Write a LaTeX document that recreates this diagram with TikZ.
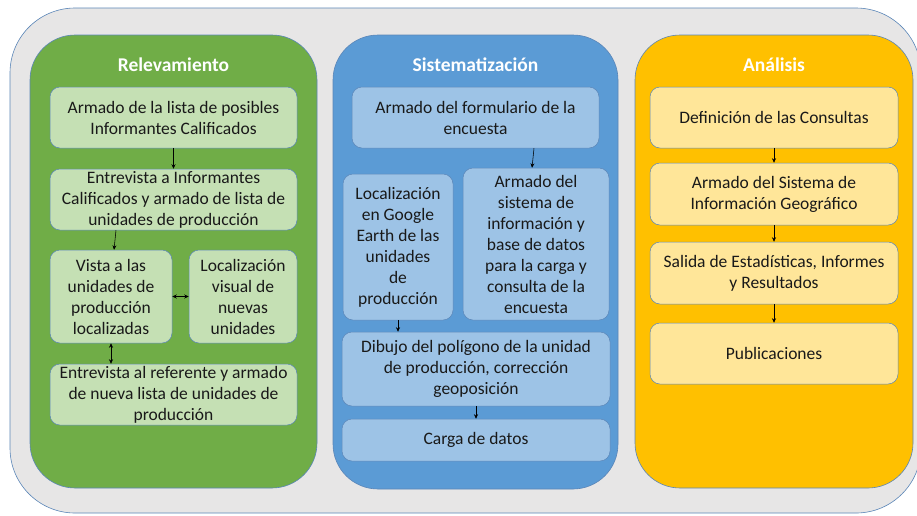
\documentclass[tikz,border=0pt]{standalone}
\usepackage{fontspec}
\setmainfont{Carlito}
\usetikzlibrary{arrows.meta}
\definecolor{outerfill}{HTML}{E7E6E6}
\definecolor{edge}{HTML}{5B86B8}
\definecolor{gpanel}{HTML}{70AD47}
\definecolor{gbox}{HTML}{C5E0B4}
\definecolor{bpanel}{HTML}{5B9BD5}
\definecolor{bbox}{HTML}{9DC3E6}
\definecolor{opanel}{HTML}{FFC000}
\definecolor{obox}{HTML}{FFE699}
\tikzset{
  panel/.style={draw=edge, line width=0.6pt, rounded corners=45pt},
  card/.style={draw=edge, line width=0.5pt, rounded corners=10pt, align=center, inner sep=0pt,
     font=\fontsize{17.5}{21}\selectfont, text=black!90},
  title/.style={text=white, font=\fontsize{19.5}{22}\selectfont\bfseries},
  arr/.style={-{Stealth[length=4.5pt,width=4pt]}, line width=0.55pt, black},
  darr/.style={{Stealth[length=4.5pt,width=4pt]}-{Stealth[length=4.5pt,width=4pt]}, line width=0.55pt, black},
}
\begin{document}
\begin{tikzpicture}[x=1pt,y=-1pt]
\useasboundingbox (0,0) rectangle (917,515);
\fill[white] (0,0) rectangle (917,515);
\begin{scope}
\clip (0,0) rectangle (917,515);
\draw[draw=edge, fill=outerfill, line width=0.6pt, rounded corners=65pt] (10,8) rectangle (921,513);
\end{scope}
% panels
\draw[panel, fill=gpanel] (30,35) rectangle (317,488);
\draw[panel, fill=bpanel] (333,35) rectangle (618,489);
\draw[panel, fill=opanel] (635,35) rectangle (913,488);
\node[title] (tg) at (173.5,65) {Relevamiento};
\node[title] (tb) at (475.5,65) {Sistematización};
\node[title] (to) at (774,65) {Análisis};
% green
\node[card, fill=gbox, minimum width=247pt, minimum height=61pt] (g1) at (173.5,117.5) {Armado de la lista de posibles\\Informantes Calificados};
\node[card, fill=gbox, minimum width=247pt, minimum height=61pt] (g2) at (173.5,199.5) {Entrevista a Informantes\\Calificados y armado de lista de\\unidades de producción};
\node[card, fill=gbox, minimum width=122pt, minimum height=93pt] (g3) at (111,296.5) {Vista a las\\unidades de\\producción\\localizadas};
\node[card, fill=gbox, minimum width=108pt, minimum height=93pt] (g4) at (243,296.5) {Localización\\visual de\\nuevas\\unidades};
\node[card, fill=gbox, minimum width=247pt, minimum height=61pt] (g5) at (173.5,394.5) {Entrevista al referente y armado\\de nueva lista de unidades de\\producción};
% blue
\node[card, fill=bbox, minimum width=247pt, minimum height=61pt] (b1) at (475.5,117.5) {Armado del formulario de la\\encuesta};
\node[card, fill=bbox, minimum width=110pt, minimum height=146pt] (b2) at (398,247) {Localización\\en Google\\Earth de las\\unidades\\de\\producción};
\node[card, fill=bbox, minimum width=146pt, minimum height=152pt] (b3) at (536,244) {Armado del\\sistema de\\información y\\base de datos\\para la carga y\\consulta de la\\encuesta};
\node[card, fill=bbox, minimum width=268pt, minimum height=74pt] (b4) at (476,369) {Dibujo del polígono de la unidad\\de producción, corrección\\geoposición};
\node[card, fill=bbox, minimum width=268pt, minimum height=42pt] (b5) at (476,440) {Carga de datos};
% orange
\node[card, fill=obox, minimum width=248pt, minimum height=61pt] (o1) at (774,117.5) {Definición de las Consultas};
\node[card, fill=obox, minimum width=248pt, minimum height=62pt] (o2) at (774,194) {Armado del Sistema de\\Información Geográfico};
\node[card, fill=obox, minimum width=248pt, minimum height=62pt] (o3) at (774,273) {Salida de Estadísticas, Informes\\y Resultados};
\node[card, fill=obox, minimum width=248pt, minimum height=61pt] (o4) at (774,353.5) {Publicaciones};
% arrows
\draw[arr] (g1.south) -- (g2.north);
\draw[arr] ([xshift=-57.5pt]g2.south) -- ([xshift=3pt]g3.north);
\draw[darr] (g3.east) -- (g4.west);
\draw[darr] (g3.south) -- (g5.north -| g3.south);
\draw[arr] ([xshift=58.5pt]b1.south) -- ([xshift=-4pt]b3.north);
\draw[arr] (b2.south) -- (b4.north -| b2.south);
\draw[arr] (b4.south) -- (b5.north);
\draw[arr] (o1.south) -- (o2.north);
\draw[arr] (o2.south) -- (o3.north);
\draw[arr] (o3.south) -- (o4.north);
\end{tikzpicture}
\end{document}
